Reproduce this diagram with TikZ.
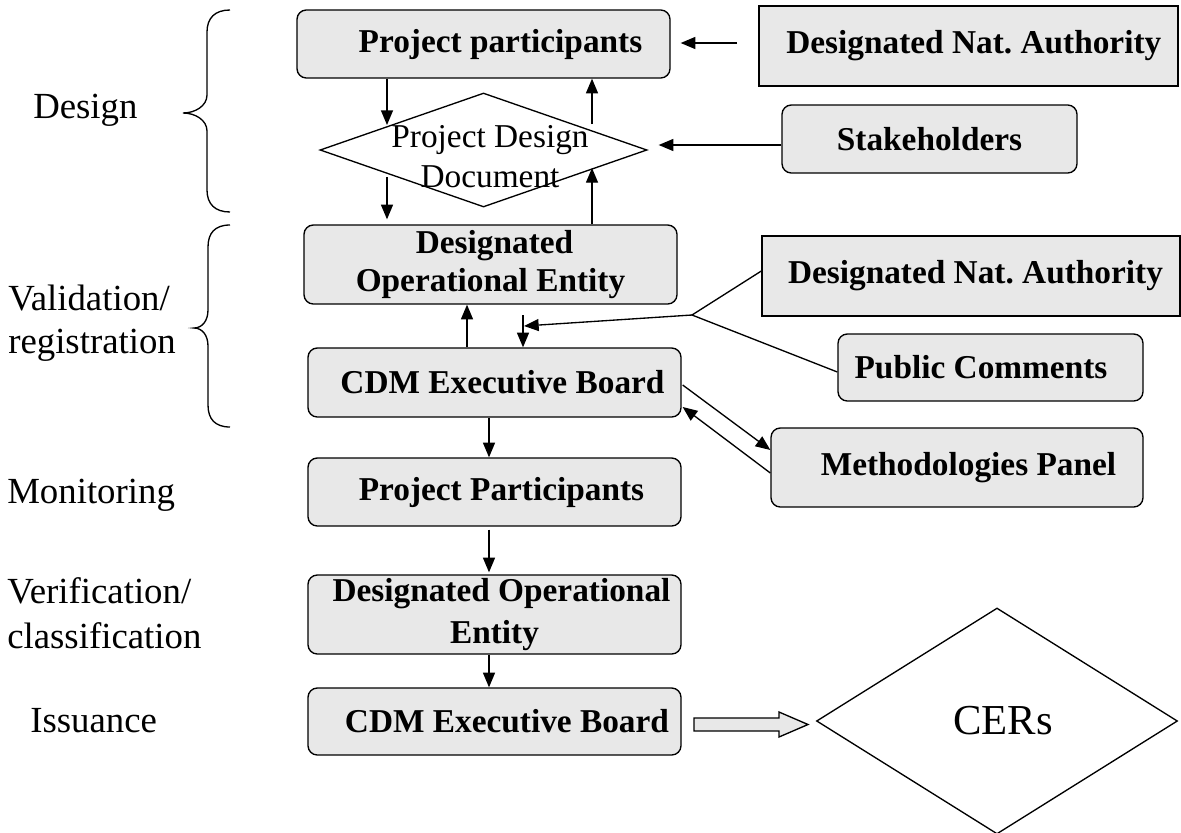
\documentclass[tikz,border=0pt]{standalone}
\usepackage{fontspec}
\setmainfont{Liberation Serif}
\usetikzlibrary{arrows.meta,calc,shapes.geometric}
\definecolor{boxgray}{HTML}{E8E8E8}
\tikzset{
  box/.style={draw, fill=boxgray, rounded corners=7pt, line width=1pt, inner sep=0pt, align=center,
    font=\bfseries\fontsize{25}{28}\selectfont},
  sqbox/.style={box, rounded corners=0pt},
  phase/.style={anchor=base west, inner sep=0pt, font=\fontsize{27.6}{32}\selectfont},
  arr/.style={line width=1pt, -{Triangle[length=11pt,width=9pt]}},
  ln/.style={line width=1pt},
  brace/.style={line width=1pt},
  hollow/.style={draw, fill=boxgray, line width=1pt},
  dia/.style={draw, shape=diamond, line width=1pt, inner sep=0pt}
}
\begin{document}
\frenchspacing
\begin{tikzpicture}[x=0.75pt, y=-0.75pt]
\useasboundingbox (0,0) rectangle (1181,832);

% phase labels
\node[phase] (design) at (33,118) {Design};
\node[phase] (val1) at (8,310) {Validation/};
\node[phase] (val2) at (8,353) {registration};
\node[phase] (mon) at (7,503) {Monitoring};
\node[phase] (ver1) at (7,603) {Verification/};
\node[phase] (ver2) at (7,648) {classification};
\node[phase] (iss) at (30,732) {Issuance};

% braces
\draw[brace] (230,10) .. controls (215,10) and (207,18) .. (207,32) -- (207,95)
  .. controls (207,106) and (195,113) .. (183,113)
  .. controls (195,113) and (207,120) .. (207,131) -- (207,190)
  .. controls (207,204) and (215,212) .. (230,212);
\draw[brace] (230,225) .. controls (215,225) and (208,233) .. (208,247) -- (208,310)
  .. controls (208,321) and (202,328) .. (194,328)
  .. controls (202,328) and (208,335) .. (208,346) -- (208,405)
  .. controls (208,419) and (215,427) .. (230,427);

% main column
\node[box, minimum width=279.75pt, minimum height=51pt] (pp1) at (483.5,44) {\hspace*{25.5pt}Project participants};
\node[dia, minimum width=245.25pt, minimum height=85.5pt] (pdd) at (483.5,150) {};
\node[align=center, inner sep=0pt, font=\fontsize{25}{30}\selectfont] (pddt) at (490,157) {Project Design\\Document};
\node[box, minimum width=279.75pt, minimum height=59.25pt] (doe1) at (490.5,264.5) {\hspace*{6pt}Designated\\Operational Entity};
\node[box, minimum width=279.75pt, minimum height=51.75pt] (cdm1) at (494.5,382.5) {\hspace*{12pt}CDM Executive Board};
\node[box, minimum width=279.75pt, minimum height=51pt] (pp2) at (494.5,492) {\hspace*{10.5pt}Project Participants};
\node[box, minimum width=279.75pt, minimum height=59.25pt] (doe2) at (494.5,614.5) {\hspace*{10.5pt}Designated Operational\\[3pt]Entity};
\node[box, minimum width=279.75pt, minimum height=50.25pt] (cdm2) at (494.5,721.5) {\hspace*{18.75pt}CDM Executive Board};

% right column
\node[sqbox, minimum width=314.25pt, minimum height=60pt] (dna1) at (968.5,46) {\hspace*{8pt}Designated Nat. Authority};
\node[box, minimum width=221.25pt, minimum height=51pt] (stk) at (929.5,139) {Stakeholders};
\node[sqbox, minimum width=313.5pt, minimum height=60pt] (dna2) at (971,276) {\hspace*{6.75pt}Designated Nat. Authority};
\node[box, minimum width=228.75pt, minimum height=50.25pt] (pc) at (990.5,367.5) {Public Comments\hspace*{14.25pt}};
\node[box, minimum width=279pt, minimum height=59.25pt] (mp) at (957,467.5) {\hspace*{17.25pt}Methodologies Panel};

\node[dia, minimum width=270.75pt, minimum height=169.5pt, font=\fontsize{32}{36}\selectfont] (cers) at (997,721) {\hspace*{9pt}CERs};

% named free ends
\coordinate (dnaA) at (737,43);
\coordinate (pdLt) at (387,125);
\coordinate (pdLb) at (387,177);
\coordinate (pdRt) at (592,124);
\coordinate (pdRb) at (592,168);
\coordinate (cUp) at (467,0);
\coordinate (jn) at (692,315);
\coordinate (jtip) at (524,326);
\coordinate (vs) at (523,315);
\coordinate (cDn) at (489,0);
\coordinate (ha) at (694,724.5);

% connectors
\draw[arr] (dnaA) -- ($(dnaA -| pp1.east)+(10,0)$);
\draw[arr] ($(stk.west)+(0,6)$) -- ($(pdd.east)+(11,-5)$);
\draw[arr] (pp1.south -| pdLt) -- (pdLt);
\draw[arr] (pdRt) -- (pp1.south -| pdRt);
\draw[arr] (pdLb) -- ($(doe1.north -| pdLb)+(0,-5)$);
\draw[arr] (doe1.north -| pdRb) -- (pdRb);
\draw[arr] (cdm1.north -| cUp) -- (doe1.south -| cUp);

\draw[ln] ($(dna2.west)+(0,-5)$) -- (jn) -- ($(pc.west)+(0,4.5)$);
\draw[arr] (jn) -- (jtip);
\draw[arr] (vs) -- (cdm1.north -| vs);

\draw[arr] ($(cdm1.east)+(1,2.5)$) -- ($(mp.west)+(0,-17.5)$);
\draw[arr] ($(mp.west)+(0,5.5)$) -- ($(cdm1.east)+(1,24.5)$);

\draw[arr] (cdm1.south -| cDn) -- (pp2.north -| cDn);
\draw[arr] ($(pp2.south -| cDn)+(0,3)$) -- ($(doe2.north -| cDn)+(0,-2)$);
\draw[arr] (doe2.south -| cDn) -- (cdm2.north -| cDn);

% hollow block arrow to CERs
\draw[hollow] (ha) ++(0,-6.5) -- ++(85,0) -- ++(0,-6) -- ++(29,12.5) -- ++(-29,12.5) -- ++(0,-6) -- ++(-85,0) -- cycle;
\end{tikzpicture}
\end{document}
